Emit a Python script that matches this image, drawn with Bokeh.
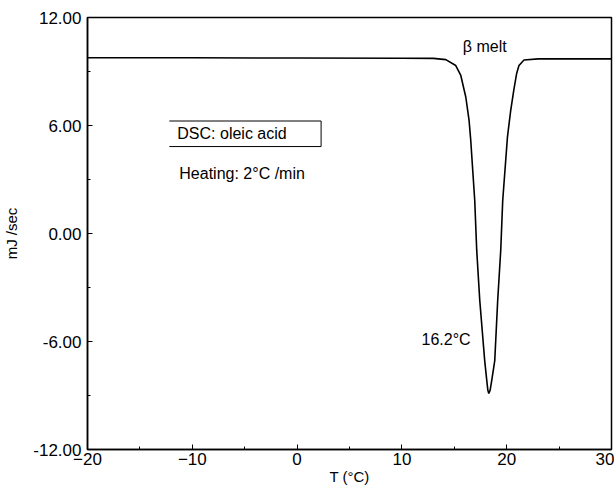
from bokeh.plotting import figure
from bokeh.models import FixedTicker, Label
from bokeh.embed import file_html
from bokeh.resources import INLINE

# DSC heating trace of oleic acid
temp_c = [-20, -10, 0, 10, 13.0, 14.19, 15.14, 15.62, 16.10, 16.41, 16.57, 16.95, 17.14,
          17.43, 17.90, 18.10, 18.20, 18.29, 18.42, 18.57, 18.86, 19.14, 19.43, 19.62,
          20.07, 20.38, 20.67, 20.95, 21.17, 21.65, 23.0, 26.0, 30.0]
heat_flow = [9.76, 9.76, 9.75, 9.74, 9.73, 9.66, 9.33, 8.78, 7.57, 6.28, 5.17, 1.83, -0.94,
             -3.72, -7.06, -8.17, -8.70, -8.89, -8.70, -8.17, -7.06, -3.72, -0.94, 1.83,
             5.35, 6.83, 7.94, 8.89, 9.33, 9.64, 9.70, 9.70, 9.70]

x_ticks = [-20, -10, 0, 10, 20, 30]
x_tick_labels = ["\u221220", "\u221210", "0", "10", "20", "30"]
y_ticks = [-12, -6, 0, 6, 12]
y_tick_labels = ["-12.00", "-6.00", "0.00", "6.00", "12.00"]

FONT = "Liberation Sans"

p = figure(width=614, height=488, x_range=(-20, 30), y_range=(-12, 12),
           output_backend="svg", toolbar_location=None,
           min_border_left=86, min_border_right=3, min_border_top=17, min_border_bottom=39)
p.grid.visible = False
p.outline_line_color = "black"
p.outline_line_width = 1.5
p.background_fill_color = "white"
p.border_fill_color = "white"

p.line(temp_c, heat_flow, line_color="black", line_width=1.6)

# axes
xa = p.xaxis[0]
xa.ticker = FixedTicker(ticks=x_ticks, minor_ticks=[t + 5 for t in x_ticks[:-1]])
xa.major_label_overrides = {t: l for t, l in zip(x_ticks, x_tick_labels)}
xa.axis_label = "T (\u00b0C)"
ya = p.yaxis[0]
ya.ticker = FixedTicker(ticks=y_ticks, minor_ticks=[t + 3 for t in y_ticks[:-1]])
ya.major_label_overrides = {t: l for t, l in zip(y_ticks, y_tick_labels)}
ya.axis_label = "mJ /sec"

for ax in (xa, ya):
    ax.axis_line_color = "black"
    ax.axis_line_width = 1.5
    ax.major_tick_in = 5
    ax.major_tick_out = 0
    ax.minor_tick_in = 3
    ax.minor_tick_out = 0
    ax.major_tick_line_color = "black"
    ax.minor_tick_line_color = "black"
    ax.major_label_text_font = FONT
    ax.major_label_text_font_size = "17px"
    ax.major_label_text_color = "black"
    ax.axis_label_text_font = FONT
    ax.axis_label_text_font_size = "15px"
    ax.axis_label_text_font_style = "normal"
    ax.axis_label_text_color = "black"

xa.major_label_standoff = 3
xa.axis_label_standoff = 0
ya.major_label_standoff = 6
ya.axis_label_standoff = 10

# annotations
p.add_layout(Label(x=15.81, y=10.39, text="\u03b2 melt", text_font=FONT,
                   text_font_size="16px", text_baseline="middle", text_color="black"))
p.add_layout(Label(x=-11.43, y=5.56, text="DSC: oleic acid", text_font=FONT,
                   text_font_size="16px", text_baseline="middle", text_color="black"))
p.add_layout(Label(x=-11.24, y=3.33, text="Heating: 2\u00b0C /min", text_font=FONT,
                   text_font_size="16px", text_baseline="middle", text_color="black"))
p.add_layout(Label(x=11.87, y=-5.89, text="16.2\u00b0C", text_font=FONT,
                   text_font_size="16px", text_baseline="middle", text_color="black"))

# box around the sample name (top, bottom, right edges)
bx0, bx1, by0, by1 = -12.19, 2.29, 4.83, 6.25
p.segment(x0=[bx0, bx0, bx1], y0=[by1, by0, by0], x1=[bx1, bx1, bx1], y1=[by1, by0, by1],
          line_color="black", line_width=1)

open("out.html", "w").write(file_html(p, INLINE))
